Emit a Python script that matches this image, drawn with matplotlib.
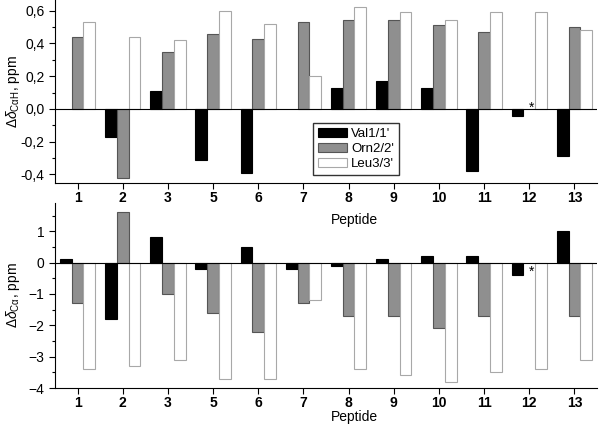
import matplotlib
matplotlib.use('Agg')
import matplotlib.pyplot as plt
import numpy as np
from matplotlib.ticker import MultipleLocator, FuncFormatter

plt.rcParams['font.family'] = ['Liberation Sans', 'DejaVu Sans']
plt.rcParams['mathtext.fontset'] = 'custom'
plt.rcParams['mathtext.rm'] = 'Liberation Sans'
plt.rcParams['mathtext.it'] = 'Liberation Sans:italic'

peptides = ['1', '2', '3', '5', '6', '7', '8', '9', '10', '11', '12', '13']
series = ['Val1/1\'', 'Orn2/2\'', 'Leu3/3\'']

# top panel: delta CaH (nan = no bar)
val_h = [np.nan, -0.17, 0.11, -0.31, -0.39, np.nan, 0.13, 0.17, 0.13, -0.38, -0.04, -0.29]
orn_h = [0.44, -0.42, 0.35, 0.46, 0.43, 0.53, 0.54, 0.54, 0.51, 0.47, np.nan, 0.50]
leu_h = [0.53, 0.44, 0.42, 0.60, 0.52, 0.20, 0.62, 0.59, 0.54, 0.59, 0.59, 0.48]

# bottom panel: delta Ca
val_c = [0.1, -1.8, 0.8, -0.2, 0.5, -0.2, -0.1, 0.1, 0.2, 0.2, -0.4, 1.0]
orn_c = [-1.3, 1.6, -1.0, -1.6, -2.2, -1.3, -1.7, -1.7, -2.1, -1.7, np.nan, -1.7]
leu_c = [-3.4, -3.3, -3.1, -3.7, -3.7, -1.2, -3.4, -3.6, -3.8, -3.5, -3.4, -3.1]

fills = ['black', '#8f8f8f', 'white']
edges = ['black', '#555555', '#a8a8a8']
w = 0.26

fig = plt.figure(figsize=(6.01, 4.25), dpi=100)
ax2 = fig.add_axes([55/601, 1-388/425, 542/601, 185/425])
ax1 = fig.add_axes([55/601, 1-183/425, 542/601, 183/425])
ax1.patch.set_visible(False)
ax2.patch.set_visible(False)

x = np.arange(len(peptides))
comma = FuncFormatter(lambda v, p: ('%.1f' % v).replace('.', ','))

def panel(ax, data, ylim, major, minor, fmt, ylabel, star_y):
    for i, d in enumerate(data):
        ax.bar(x + (i - 1) * w, d, w, color=fills[i], edgecolor=edges[i],
               linewidth=0.8, label=series[i])
    ax.axhline(0, color='black', lw=0.8)
    ax.set_xlim(-0.5, 11.5)
    ax.set_ylim(*ylim)
    ax.set_xticks(x)
    ax.set_xticklabels(peptides, fontweight='bold', fontsize=10)
    ax.yaxis.set_major_locator(MultipleLocator(major))
    ax.yaxis.set_minor_locator(MultipleLocator(minor))
    if fmt is not None:
        ax.yaxis.set_major_formatter(fmt)
    ax.tick_params(axis='y', labelsize=10, length=4, width=0.8)
    ax.tick_params(axis='y', which='minor', length=2.5, width=0.8)
    ax.tick_params(axis='x', length=4, width=0.8, pad=2)
    for s in ['top', 'right']:
        ax.spines[s].set_visible(False)
    for s in ['left', 'bottom']:
        ax.spines[s].set_linewidth(0.8)
    ax.set_xlabel('Peptide', fontsize=10)
    ax.set_ylabel(ylabel, fontsize=10)
    ax.yaxis.set_label_coords(-33/542, 0.5)
    ax.text(10.05, star_y, '*', ha='center', va='center', fontsize=10)

panel(ax1, [val_h, orn_h, leu_h], (-0.452, 0.665), 0.2, 0.1, comma,
      r'$\Delta\delta_{\mathrm{C\alpha H}}$, ppm', 0.01)
panel(ax2, [val_c, orn_c, leu_c], (-4, 1.9), 1, 0.5, None,
      r'$\Delta\delta_{\mathrm{C\alpha}}$, ppm', -0.3)
ax1.xaxis.set_label_coords(299/542, -30/183)
ax2.xaxis.set_label_coords(299/542, -22/185)

ax1.legend(loc='upper left', bbox_to_anchor=(258/542, 1-123/183), fontsize=9.5,
           frameon=True, fancybox=False, edgecolor='black', handlelength=2.2,
           handleheight=0.75, borderpad=0.35, labelspacing=0.2, handletextpad=0.35,
           borderaxespad=0)

fig.savefig('out.png', dpi=100)
